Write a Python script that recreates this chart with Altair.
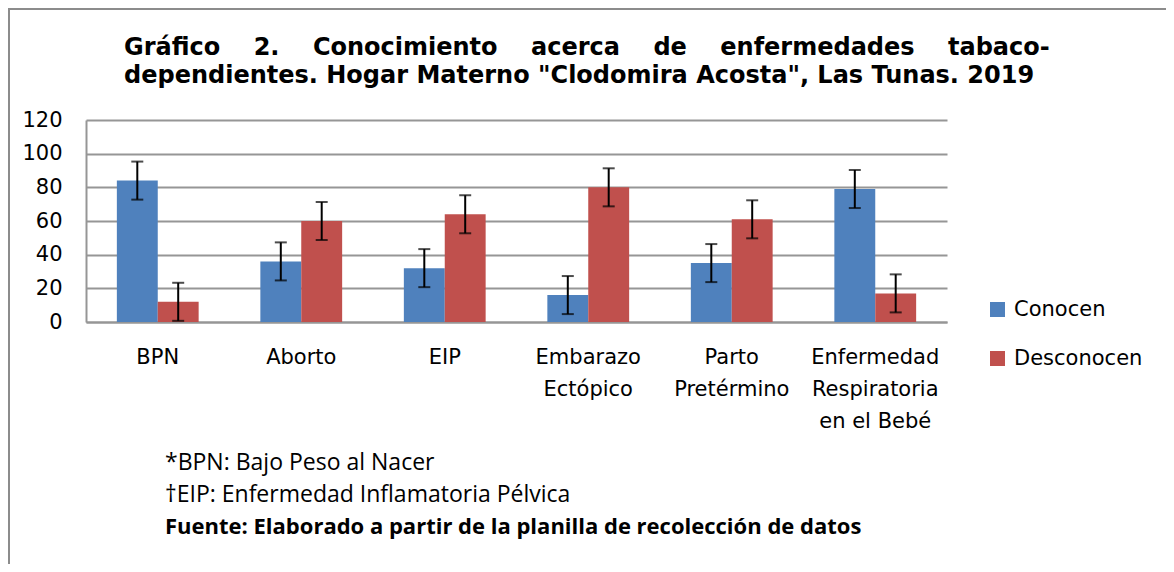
import altair as alt
import pandas as pd

# ---- data ----
categories = ["BPN", "Aborto", "EIP", "Embarazo|Ectópico", "Parto|Pretérmino",
              "Enfermedad|Respiratoria|en el Bebé"]
series = ["Conocen", "Desconocen"]
conocen = [84, 36, 32, 16, 35, 79]
desconocen = [12, 60, 64, 80, 61, 17]
err_conocen = [11.3, 11.3, 11.3, 11.3, 11.3, 11.3]
err_desconocen = [11.3, 11.3, 11.3, 11.3, 11.3, 11.3]
y_ticks = [0, 20, 40, 60, 80, 100, 120]
colors = ["#4F81BD", "#C0504D"]

title_line1 = "Gráfico 2. Conocimiento acerca de enfermedades tabaco-"
title_line2 = "dependientes. Hogar Materno \"Clodomira Acosta\", Las Tunas. 2019"
notes = ["*BPN: Bajo Peso al Nacer", "\u2020EIP: Enfermedad Inflamatoria Pélvica"]
source = "Fuente: Elaborado a partir de la planilla de recolección de datos"

rows = []
for i, c in enumerate(categories):
    rows.append({"cat": c, "serie": series[0], "valor": conocen[i],
                 "lo": conocen[i] - err_conocen[i], "hi": conocen[i] + err_conocen[i]})
    rows.append({"cat": c, "serie": series[1], "valor": desconocen[i],
                 "lo": desconocen[i] - err_desconocen[i], "hi": desconocen[i] + err_desconocen[i]})
df = pd.DataFrame(rows)

W, H = 861, 202
FONT = "DejaVu Sans"
NOTE_FONT = "Open Sans"
GRID = "#969696"

# justify first title line with non-breaking spaces
gap = "\u00a0" * 4
t1 = gap.join(title_line1.split(" "))

y_axis = alt.Axis(title=None, values=y_ticks, ticks=False, labelFont=FONT,
                  labelFontSize=21, labelColor="black", labelPadding=24,
                  labelOverlap=False, labelFlush=False,
                  gridColor=GRID, gridWidth=2, domainColor=GRID, domainWidth=2)
x_axis = alt.Axis(title=None, labelAngle=0, labelExpr="split(datum.label, '|')",
                  labelFont=FONT, labelFontSize=21, labelColor="black",
                  labelLineHeight=32, labelPadding=24, ticks=False,
                  domainColor=GRID, domainWidth=2, grid=False, labelBaseline="top")

x_enc = alt.X("cat:N", sort=categories,
              scale=alt.Scale(paddingInner=0.43, paddingOuter=0.215), axis=x_axis)
xo_enc = alt.XOffset("serie:N", sort=series, scale=alt.Scale(paddingInner=0, paddingOuter=0))
y_scale = alt.Scale(domain=[0, 120], nice=False)

base = alt.Chart(df)

bars = base.mark_bar().encode(
    x=x_enc, xOffset=xo_enc,
    y=alt.Y("valor:Q", scale=y_scale, axis=y_axis),
    color=alt.Color("serie:N", sort=series, scale=alt.Scale(domain=series, range=colors),
                    legend=alt.Legend(title=None, orient="none", legendX=901, legendY=179,
                                      symbolType="square", symbolSize=225, symbolStrokeWidth=0,
                                      labelFont=FONT, labelFontSize=21, labelColor="black",
                                      rowPadding=27, labelOffset=6)),
)

rules = base.mark_rule(color="black", strokeWidth=2).encode(
    x=alt.X("cat:N", sort=categories, axis=x_axis), xOffset=alt.XOffset("serie:N", sort=series),
    y=alt.Y("lo:Q", scale=y_scale, axis=y_axis), y2="hi:Q")
cap_hi = base.mark_tick(color="black", thickness=2, size=12).encode(
    x=alt.X("cat:N", sort=categories, axis=x_axis), xOffset=alt.XOffset("serie:N", sort=series),
    y=alt.Y("hi:Q", scale=y_scale, axis=y_axis))
cap_lo = base.mark_tick(color="black", thickness=2, size=12).encode(
    x=alt.X("cat:N", sort=categories, axis=x_axis), xOffset=alt.XOffset("serie:N", sort=series),
    y=alt.Y("lo:Q", scale=y_scale, axis=y_axis))

one = pd.DataFrame({"k": [0]})


def text_line(txt, x, y, font, size, weight="normal"):
    return alt.Chart(one).mark_text(align="left", baseline="middle", font=font, fontSize=size,
                                    fontWeight=weight, color="black").encode(
        x=alt.value(x), y=alt.value(y), text=alt.value(txt))


title1 = text_line(t1, 38, -72, FONT, 24, "bold")
title2 = text_line(title_line2, 38, -44, FONT, 24, "bold")
note1 = text_line(notes[0], 79, 343, NOTE_FONT, 23)
note2 = text_line(notes[1], 79, 375, NOTE_FONT, 23)
note3 = text_line(source, 79, 407, NOTE_FONT, 22, "bold")
border = alt.Chart(one).mark_rect(fillOpacity=0, stroke="#8c8c8c", strokeWidth=2).encode(
    x=alt.value(-77), x2=alt.value(1200), y=alt.value(-111), y2=alt.value(600))

chart = alt.layer(border, bars, rules, cap_hi, cap_lo, title1, title2,
                  note1, note2, note3).properties(
    width=W, height=H,
    autosize=alt.AutoSizeParams(type="none"),
    padding={"left": 78, "top": 112, "right": 219, "bottom": 242},
).configure_view(stroke=None).configure_axis(labelOverlap=False)

chart.save("out.html", embed_options={"renderer": "svg", "actions": False})
